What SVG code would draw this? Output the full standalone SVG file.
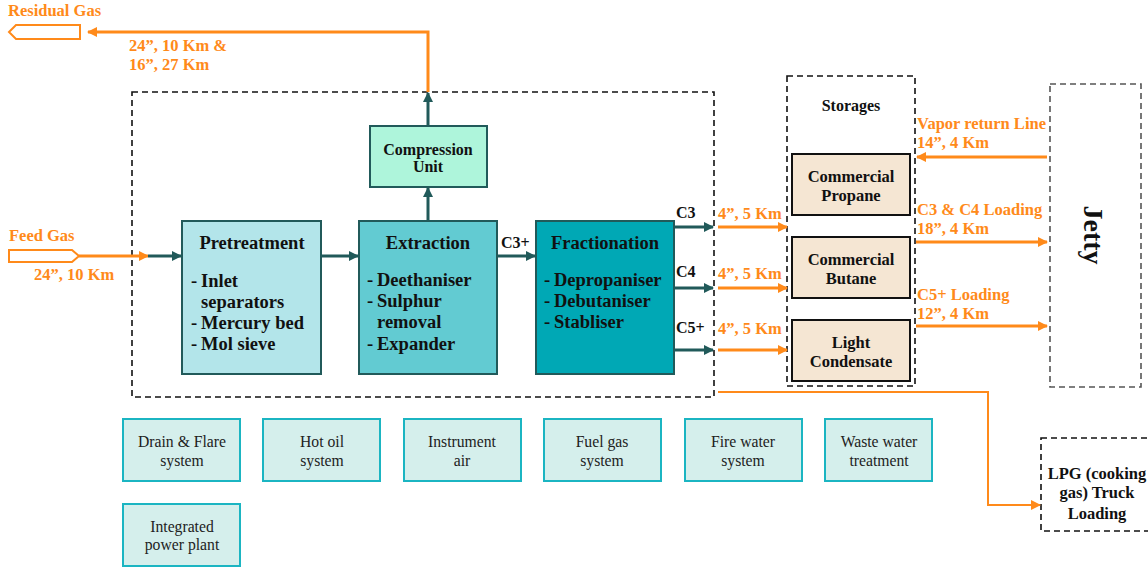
<svg xmlns="http://www.w3.org/2000/svg" width="1148" height="569" viewBox="0 0 1148 569">
<defs>
<marker id="ah" viewBox="0 0 10 10" refX="9" refY="5" markerWidth="10" markerHeight="10" markerUnits="userSpaceOnUse" orient="auto"><path d="M0,0 L10,5 L0,10 z" fill="#215a5a"/></marker>
<marker id="ao" viewBox="0 0 10 10" refX="9" refY="5" markerWidth="10" markerHeight="10" markerUnits="userSpaceOnUse" orient="auto"><path d="M0,0 L10,5 L0,10 z" fill="#ff8a1a"/></marker>
<style>
text{font-family:'Liberation Serif','DejaVu Serif',serif;}
.b{font-weight:bold;fill:#111;}
.h{font-weight:bold;fill:#111;font-size:18.5px;}
.o{font-weight:bold;fill:#ff8a1a;font-size:16.5px;}
.u{font-size:15.7px;fill:#222;text-anchor:middle;}
.dl{fill:none;stroke:#111;stroke-width:1.6;stroke-dasharray:6,4;}
.tl{fill:none;stroke:#215a5a;stroke-width:3;marker-end:url(#ah);}
.ol{fill:none;stroke:#ff8a1a;stroke-width:3;marker-end:url(#ao);}
.ut{fill:#d5efec;stroke:#1bb5c2;stroke-width:2;}
.st{fill:#f5e6d3;stroke:#111;stroke-width:2;}
</style>
</defs>

<g id="plant-boundary"><rect class="dl" x="132" y="92" width="582" height="305"/></g>
<g id="storages-boundary"><rect class="dl" x="787" y="76" width="128" height="310"/>
<text class="b" x="851" y="111" font-size="16" text-anchor="middle">Storages</text></g>

<g id="residual-gas">
<path d="M80,25 L16,25 L9,32 L16,39 L80,39 z" fill="#fff" stroke="#ff8a1a" stroke-width="2"/>
<text class="o" x="8" y="16">Residual Gas</text>
<text class="o" x="129" y="51">24”, 10 Km &amp;</text>
<text class="o" x="129" y="70">16”, 27 Km</text>
</g>

<g id="feed-gas">
<path d="M9,250 L72,250 L79,256 L72,262 L9,262 z" fill="#fff" stroke="#ff8a1a" stroke-width="2"/>
<text class="o" x="9" y="241">Feed Gas</text>
<text class="o" x="34" y="280">24”, 10 Km</text>
</g>

<g id="pretreatment">
<rect x="182" y="221" width="139" height="153" fill="#b3e5ea" stroke="#215a5a" stroke-width="2"/>
<text class="h" x="252" y="249" text-anchor="middle">Pretreatment</text>
<text class="h" x="191" y="287">-</text><text class="h" x="201" y="287">Inlet</text>
<text class="h" x="201" y="308">separators</text>
<text class="h" x="191" y="329">-</text><text class="h" x="201" y="329">Mercury bed</text>
<text class="h" x="191" y="350">-</text><text class="h" x="201" y="350">Mol sieve</text>
</g>

<g id="extraction">
<rect x="359" y="221" width="138" height="153" fill="#62cbd2" stroke="#215a5a" stroke-width="2"/>
<text class="h" x="428" y="249" text-anchor="middle">Extraction</text>
<text class="h" x="367" y="286">-</text><text class="h" x="377" y="286">Deethaniser</text>
<text class="h" x="367" y="307">-</text><text class="h" x="377" y="307">Sulphur</text>
<text class="h" x="377" y="328">removal</text>
<text class="h" x="367" y="350">-</text><text class="h" x="377" y="350">Expander</text>
</g>

<g id="fractionation">
<rect x="536" y="221" width="138" height="153" fill="#00a8b5" stroke="#215a5a" stroke-width="2"/>
<text class="h" x="605" y="249" text-anchor="middle">Fractionation</text>
<text class="h" x="544" y="286">-</text><text class="h" x="554" y="286">Depropaniser</text>
<text class="h" x="544" y="307">-</text><text class="h" x="554" y="307">Debutaniser</text>
<text class="h" x="544" y="328">-</text><text class="h" x="554" y="328">Stabliser</text>
</g>

<g id="compression">
<rect x="370" y="126" width="117" height="61" fill="#aef5db" stroke="#215a5a" stroke-width="2"/>
<text class="b" x="428" y="155" font-size="16" text-anchor="middle">Compression</text>
<text class="b" x="428" y="172" font-size="16" text-anchor="middle">Unit</text>
</g>

<g id="propane"><rect class="st" x="792" y="154" width="118" height="61"/>
<text class="b" x="851" y="182" font-size="16.5" text-anchor="middle">Commercial</text>
<text class="b" x="851" y="201" font-size="16.5" text-anchor="middle">Propane</text></g>
<g id="butane"><rect class="st" x="792" y="237" width="118" height="61"/>
<text class="b" x="851" y="265" font-size="16.5" text-anchor="middle">Commercial</text>
<text class="b" x="851" y="284" font-size="16.5" text-anchor="middle">Butane</text></g>
<g id="condensate"><rect class="st" x="792" y="320" width="118" height="61"/>
<text class="b" x="851" y="348" font-size="16.5" text-anchor="middle">Light</text>
<text class="b" x="851" y="367" font-size="16.5" text-anchor="middle">Condensate</text></g>

<g id="jetty"><rect x="1050" y="84" width="91" height="303" fill="none" stroke="#555" stroke-width="1.6" stroke-dasharray="6,4"/>
<text class="b" x="0" y="0" font-size="28" text-anchor="middle" transform="translate(1084,235) rotate(90)">Jetty</text></g>

<g id="lpg"><rect class="dl" x="1041" y="438" width="108" height="93"/>
<text class="b" x="1097" y="479" font-size="16.5" text-anchor="middle">LPG (cooking</text>
<text class="b" x="1097" y="498" font-size="16.5" text-anchor="middle">gas) Truck</text>
<text class="b" x="1097" y="519" font-size="16.5" text-anchor="middle">Loading</text></g>

<g id="drain-flare"><rect class="ut" x="123" y="419" width="117" height="62"/><text class="u" x="182" y="447">Drain &amp; Flare</text><text class="u" x="182" y="466">system</text></g>
<g id="hot-oil"><rect class="ut" x="263" y="419" width="117" height="62"/><text class="u" x="322" y="447">Hot oil</text><text class="u" x="322" y="466">system</text></g>
<g id="instrument-air"><rect class="ut" x="404" y="419" width="117" height="62"/><text class="u" x="462" y="447">Instrument</text><text class="u" x="462" y="466">air</text></g>
<g id="fuel-gas"><rect class="ut" x="544" y="419" width="117" height="62"/><text class="u" x="602" y="447">Fuel gas</text><text class="u" x="602" y="466">system</text></g>
<g id="fire-water"><rect class="ut" x="685" y="419" width="117" height="62"/><text class="u" x="743" y="447">Fire water</text><text class="u" x="743" y="466">system</text></g>
<g id="waste-water"><rect class="ut" x="825" y="419" width="107" height="62"/><text class="u" x="879" y="447">Waste water</text><text class="u" x="879" y="466">treatment</text></g>
<g id="power-plant"><rect class="ut" x="123" y="504" width="117" height="62"/><text class="u" x="182" y="532">Integrated</text><text class="u" x="182" y="550">power plant</text></g>

<g id="connectors">
<path class="ol" d="M79,256 L148,256"/>
<path class="tl" d="M148,256 L181,256"/>
<path class="tl" d="M321,256 L358,256"/>
<path class="tl" d="M497,256 L535,256"/>
<text class="b" x="501" y="248" font-size="16">C3+</text>
<path class="tl" d="M428,221 L428,188"/>
<path class="tl" d="M428,126 L428,93"/>
<path class="ol" d="M428,92 L428,32 L88,32"/>
<path class="tl" d="M674,227 L713,227"/>
<path class="tl" d="M674,288 L713,288"/>
<path class="tl" d="M674,350 L713,350"/>
<text class="b" x="676" y="218" font-size="16">C3</text>
<text class="b" x="676" y="277" font-size="16">C4</text>
<text class="b" x="676" y="333" font-size="16">C5+</text>
<path class="ol" d="M718,227 L787,227"/>
<path class="ol" d="M718,288 L787,288"/>
<path class="ol" d="M718,350 L787,350"/>
<text class="o" x="718" y="219">4”, 5 Km</text>
<text class="o" x="718" y="279">4”, 5 Km</text>
<text class="o" x="718" y="334">4”, 5 Km</text>
<path class="ol" d="M1047,157 L917,157"/>
<path class="ol" d="M916,242 L1047,242"/>
<path class="ol" d="M916,326 L1047,326"/>
<text class="o" x="917" y="129">Vapor return Line</text>
<text class="o" x="917" y="148">14”, 4 Km</text>
<text class="o" x="917" y="215">C3 &amp; C4 Loading</text>
<text class="o" x="917" y="234">18”, 4 Km</text>
<text class="o" x="917" y="300">C5+ Loading</text>
<text class="o" x="917" y="319">12”, 4 Km</text>
<path class="ol" d="M718,392 L988,392 L988,505 L1040,505" style="stroke-width:2"/>
</g>
</svg>
